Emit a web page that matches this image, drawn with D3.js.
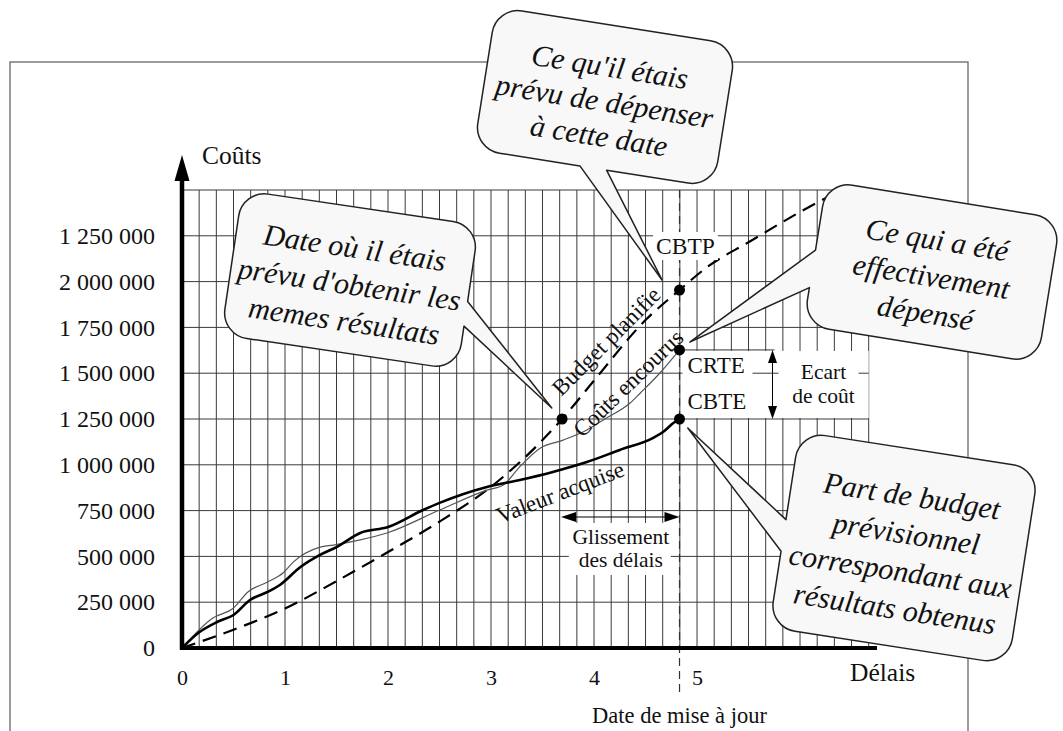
<!DOCTYPE html>
<html><head><meta charset="utf-8">
<script src="https://cdn.jsdelivr.net/npm/d3@7/dist/d3.min.js"></script>
<style>
html,body{margin:0;padding:0;background:#fff;}
svg{display:block;font-family:"Liberation Serif","Times New Roman",serif;}
</style>
</head><body>
<svg id="chart" width="1063" height="731"></svg>
<script>
// ---------- DATA ----------
const xTickValues = [0, 1, 2, 3, 4, 5];
const xTickLabels = ["0", "1", "2", "3", "4", "5"];
const yTickValues = [0, 250000, 500000, 750000, 1000000, 1250000, 1500000, 1750000, 2000000, 2250000];
const yTickLabels = ["0", "250 000", "500 000", "750 000", "1 000 000", "1 250 000", "1 500 000", "1 750 000", "2 000 000", "1 250 000"];

// Budget planifié (dashed)
const tBudget = [0, 0.5, 1, 1.5, 2, 2.5, 3, 3.5, 3.69, 4, 4.5, 4.83, 5.1, 5.5, 6, 6.5];
const budgetPlanifie = [0, 100000, 215000, 365000, 524000, 690000, 880000, 1135000, 1250000, 1460000, 1790000, 1954000, 2080000, 2215000, 2380000, 2530000];

// Valeur acquise (thick)
const tValeur = [0, 0.17, 0.34, 0.5, 0.66, 0.83, 0.95, 1.15, 1.34, 1.5, 1.73, 2.0, 2.34, 2.5, 2.96, 3.28, 3.6, 3.93, 4.25, 4.57, 4.67, 4.77, 4.83];
const valeurAcquise = [0, 87000, 142000, 180000, 262000, 306000, 344000, 442000, 508000, 551000, 628000, 660000, 753000, 792000, 879000, 917000, 961000, 1015000, 1081000, 1146000, 1179000, 1228000, 1250000];

// Coûts encourus (thin)
const tCouts = [0, 0.3, 0.5, 0.64, 0.83, 0.98, 1.08, 1.34, 1.47, 1.73, 1.99, 2.5, 2.96, 3.12, 3.28, 3.48, 3.7, 3.93, 4.09, 4.35, 4.45, 4.64, 4.83];
const coutsEncourus = [0, 164000, 218000, 306000, 360000, 409000, 469000, 551000, 562000, 590000, 628000, 753000, 862000, 890000, 990000, 1092000, 1135000, 1190000, 1245000, 1337000, 1392000, 1501000, 1627000];

const dateMiseAJour = 4.83;
const dateMemesResultats = 3.69;
const CBTP = 1954000, CRTE = 1627000, CBTE = 1250000;

// ---------- SETUP ----------
const svg = d3.select("#chart");
const x = d3.scaleLinear().domain([0, 40 / 6]).range([182, 868.7]);
const y = d3.scaleLinear().domain([0, 2500000]).range([648, 190]);
const ink = "#111";

// outer frame
svg.append("rect").attr("x", 10).attr("y", 62).attr("width", 958).attr("height", 700)
  .attr("fill", "none").attr("stroke", "#666").attr("stroke-width", 1.3);

// grid
const gridV = d3.range(0, 41).map(i => i / 6);
const gridH = d3.range(0, 11).map(i => i * 250000);
const grid = svg.append("g").attr("stroke", "#3a3a3a").attr("stroke-width", 1);
grid.selectAll("line.v").data(gridV).join("line").attr("class", "v")
  .attr("x1", d => x(d)).attr("x2", d => x(d)).attr("y1", y(2500000)).attr("y2", y(0));
const xU = x(dateMiseAJour);
svg.append("rect").attr("x", xU + 3).attr("y", y(CRTE) + 1).attr("width", x(40 / 6) - xU - 3)
  .attr("height", y(CBTE) - y(CRTE) - 2).attr("fill", "#fff");
const gridH2 = svg.append("g").attr("stroke", "#3a3a3a").attr("stroke-width", 1);
gridH2.selectAll("line.h").data(gridH).join("line").attr("class", "h")
  .attr("x1", x(0)).attr("x2", x(40 / 6)).attr("y1", d => y(d)).attr("y2", d => y(d));

// update date vertical dashed line
svg.append("line").attr("x1", xU).attr("x2", xU).attr("y1", y(2500000)).attr("y2", 697)
  .attr("stroke", "#333").attr("stroke-width", 1.2).attr("stroke-dasharray", "8,5");

// ---------- CURVES ----------
svg.append("clipPath").attr("id", "plotclip").append("rect")
  .attr("x", x(0)).attr("y", y(2500000)).attr("width", x(40 / 6) - x(0)).attr("height", y(0) - y(2500000));
const line = d3.line().x(d => x(d[0])).y(d => y(d[1])).curve(d3.curveMonotoneX);
svg.append("path").datum(tBudget.map((t, i) => [t, budgetPlanifie[i]]))
  .attr("d", line).attr("fill", "none").attr("stroke", "#000").attr("stroke-width", 2.2)
  .attr("stroke-dasharray", "14,8").attr("clip-path", "url(#plotclip)");
svg.append("path").datum(tCouts.map((t, i) => [t, coutsEncourus[i]]))
  .attr("d", line).attr("fill", "none").attr("stroke", "#555").attr("stroke-width", 1.2);
svg.append("path").datum(tValeur.map((t, i) => [t, valeurAcquise[i]]))
  .attr("d", line).attr("fill", "none").attr("stroke", "#000").attr("stroke-width", 2.6);

// ---------- AXES ----------
const yAxis = svg.append("g").attr("transform", `translate(${x(0)},0)`)
  .call(d3.axisLeft(y).tickValues(yTickValues).tickFormat((d, i) => yTickLabels[i]).tickSize(0).tickPadding(27));
yAxis.select(".domain").remove();
yAxis.selectAll("text").attr("font-size", 24).attr("fill", ink).attr("font-family", "Liberation Serif");

const xAxis = svg.append("g").attr("transform", `translate(0,${y(0)})`)
  .call(d3.axisBottom(x).tickValues(xTickValues).tickFormat((d, i) => xTickLabels[i]).tickSize(0).tickPadding(21));
xAxis.select(".domain").remove();
xAxis.selectAll("text").attr("font-size", 22).attr("fill", ink).attr("font-family", "Liberation Serif");

// thick axis lines
svg.append("line").attr("x1", x(0)).attr("x2", x(0)).attr("y1", y(0) + 2).attr("y2", 178)
  .attr("stroke", "#000").attr("stroke-width", 4.5);
svg.append("path").attr("d", `M${x(0)},155L${x(0) + 7.5},181L${x(0) - 7.5},181Z`).attr("fill", "#000");
svg.append("line").attr("x1", x(0) - 2).attr("x2", 877).attr("y1", y(0)).attr("y2", y(0))
  .attr("stroke", "#000").attr("stroke-width", 4);

svg.append("text").attr("x", 202).attr("y", 164).attr("font-size", 25.5).attr("fill", ink).text("Coûts");
svg.append("text").attr("x", 850).attr("y", 681).attr("font-size", 25.5).attr("fill", ink).text("Délais");
svg.append("text").attr("x", xU).attr("y", 723).attr("font-size", 22.5).attr("fill", ink)
  .attr("text-anchor", "middle").text("Date de mise à jour");

// ---------- LABELS ----------
function labelBox(tx, ty, str, size, anchor, pad) {
  const t = svg.append("text").attr("x", tx).attr("y", ty).attr("font-size", size)
    .attr("fill", ink).attr("text-anchor", anchor || "start").text(str);
  const bb = t.node().getBBox();
  svg.insert("rect", () => t.node()).attr("x", bb.x - pad).attr("y", bb.y - pad + 2)
    .attr("width", bb.width + 2 * pad).attr("height", bb.height + 2 * pad - 4).attr("fill", "#fff");
  return t;
}
// Glissement des délais
const gx = (x(dateMemesResultats) + xU) / 2;
svg.append("rect").attr("x", gx - 52).attr("y", 523).attr("width", 102).attr("height", 52).attr("fill", "#fff");
svg.append("text").attr("x", gx).attr("y", 544).attr("font-size", 21.5).attr("fill", ink).attr("text-anchor", "middle").text("Glissement");
svg.append("text").attr("x", gx).attr("y", 567).attr("font-size", 21.5).attr("fill", ink).attr("text-anchor", "middle").text("des délais");
const gy = 517;
svg.append("line").attr("x1", x(dateMemesResultats) + 4).attr("x2", xU - 4).attr("y1", gy).attr("y2", gy)
  .attr("stroke", "#000").attr("stroke-width", 1);
svg.append("path").attr("d", `M${x(dateMemesResultats) - 1},${gy}l15,-5l0,10Z`).attr("fill", "#000");
svg.append("path").attr("d", `M${xU},${gy}l-15,-5l0,10Z`).attr("fill", "#000");

// CBTP, CRTE, CBTE
labelBox(xU + 6, y(CBTP) - 36, "CBTP", 23.5, "middle", 3);
svg.append("rect").attr("x", xU + 3).attr("y", y(CRTE) + 2).attr("width", 70).attr("height", y(CBTE) - y(CRTE) - 4).attr("fill", "#fff");
svg.append("text").attr("x", xU + 8).attr("y", y(CRTE) + 23).attr("font-size", 23).attr("fill", ink).text("CRTE");
svg.append("text").attr("x", xU + 8).attr("y", y(CBTE) - 10).attr("font-size", 23).attr("fill", ink).text("CBTE");
// Ecart de coût
const ex = xU + 93;
svg.append("line").attr("x1", xU).attr("x2", ex + 2).attr("y1", y(CRTE)).attr("y2", y(CRTE)).attr("stroke", "#333").attr("stroke-width", 1);
svg.append("rect").attr("x", ex + 6).attr("y", y(CRTE) + 2).attr("width", 80).attr("height", y(CBTE) - y(CRTE) - 4).attr("fill", "#fff");
svg.append("line").attr("x1", ex).attr("x2", ex).attr("y1", y(CRTE) + 4).attr("y2", y(CBTE) - 4).attr("stroke", "#000").attr("stroke-width", 1);
svg.append("path").attr("d", `M${ex},${y(CRTE)}l-4.5,13l9,0Z`).attr("fill", "#000");
svg.append("path").attr("d", `M${ex},${y(CBTE)}l-4.5,-13l9,0Z`).attr("fill", "#000");
svg.append("text").attr("x", xU + 144).attr("y", 379).attr("font-size", 21.5).attr("fill", ink).attr("text-anchor", "middle").text("Ecart");
svg.append("text").attr("x", xU + 144).attr("y", 403).attr("font-size", 21.5).attr("fill", ink).attr("text-anchor", "middle").text("de coût");

// rotated curve labels
function rotLabel(cx, cy, ang, str, size) {
  svg.append("text").attr("transform", `translate(${cx},${cy}) rotate(${ang})`)
    .attr("text-anchor", "middle").attr("dy", "0.35em").attr("font-size", size).attr("fill", ink).text(str);
}
rotLabel(606, 341, -45, "Budget planifie", 23);
rotLabel(628, 383, -44, "Coûts encourus", 23);
rotLabel(560, 492, -21, "Valeur acquise", 23);

// points
const pts = [[dateMemesResultats, CBTE], [dateMiseAJour, CBTP], [dateMiseAJour, CRTE], [dateMiseAJour, CBTE]];
svg.selectAll("circle.pt").data(pts).join("circle").attr("class", "pt")
  .attr("cx", d => x(d[0])).attr("cy", d => y(d[1])).attr("r", 5.5).attr("fill", "#000");

// ---------- CALLOUTS ----------
const callouts = [
  { lines: ["Ce qu'il étais", "prévu de dépenser", "à cette date"], cx: 605, cy: 97, w: 243, h: 144, rot: 9, side: "bottom", base: [-14, 13], tip: [4.66, 2009000], lh: 35 },
  { lines: ["Date où il étais", "prévu d'obtenir les", "memes résultats"], cx: 350, cy: 280, w: 239, h: 146, rot: 8.4, side: "right", base: [4, 29], tip: [3.59, 1310000], lh: 37 },
  { lines: ["Ce qui a été", "effectivement", "dépensé"], cx: 932, cy: 272, w: 237, h: 146, rot: 9.2, side: "left", base: [-3, 35], tip: [4.93, 1670000], lh: 37 },
  { lines: ["Part de budget", "prévisionnel", "correspondant aux", "résultats obtenus"], cx: 904, cy: 548, w: 242, h: 198, rot: 8.8, side: "left", base: [-10, 22], tip: [4.91, 1201000], lh: 38 }
];
function bubble(w, h, r, side, b, tp) {
  const W = w / 2, H = h / 2;
  let p = `M${-W + r},${-H}L${W - r},${-H}A${r},${r} 0 0 1 ${W},${-H + r}`;
  if (side === "right") p += `L${W},${b[0]}L${tp[0]},${tp[1]}L${W},${b[1]}`;
  p += `L${W},${H - r}A${r},${r} 0 0 1 ${W - r},${H}`;
  if (side === "bottom") p += `L${b[1]},${H}L${tp[0]},${tp[1]}L${b[0]},${H}`;
  p += `L${-W + r},${H}A${r},${r} 0 0 1 ${-W},${H - r}`;
  if (side === "left") p += `L${-W},${b[1]}L${tp[0]},${tp[1]}L${-W},${b[0]}`;
  p += `L${-W},${-H + r}A${r},${r} 0 0 1 ${-W + r},${-H}Z`;
  return p;
}
callouts.forEach(c => {
  const a = c.rot * Math.PI / 180;
  const dx = x(c.tip[0]) - c.cx, dy = y(c.tip[1]) - c.cy;
  const tl = [dx * Math.cos(a) + dy * Math.sin(a), -dx * Math.sin(a) + dy * Math.cos(a)];
  const g = svg.append("g").attr("transform", `translate(${c.cx},${c.cy}) rotate(${c.rot})`);
  g.append("path").attr("d", bubble(c.w, c.h, 26, c.side, c.base, tl))
    .attr("fill", "#f8f8f8").attr("stroke", "#222").attr("stroke-width", 1.5).attr("stroke-linejoin", "round");
  const n = c.lines.length;
  c.lines.forEach((s, i) => {
    g.append("text").attr("x", 0).attr("y", (i - (n - 1) / 2) * c.lh + 4).attr("dy", "0.35em")
      .attr("text-anchor", "middle").attr("font-size", 30).attr("font-style", "italic")
      .attr("fill", ink).text(s);
  });
});
</script>
</body></html>
